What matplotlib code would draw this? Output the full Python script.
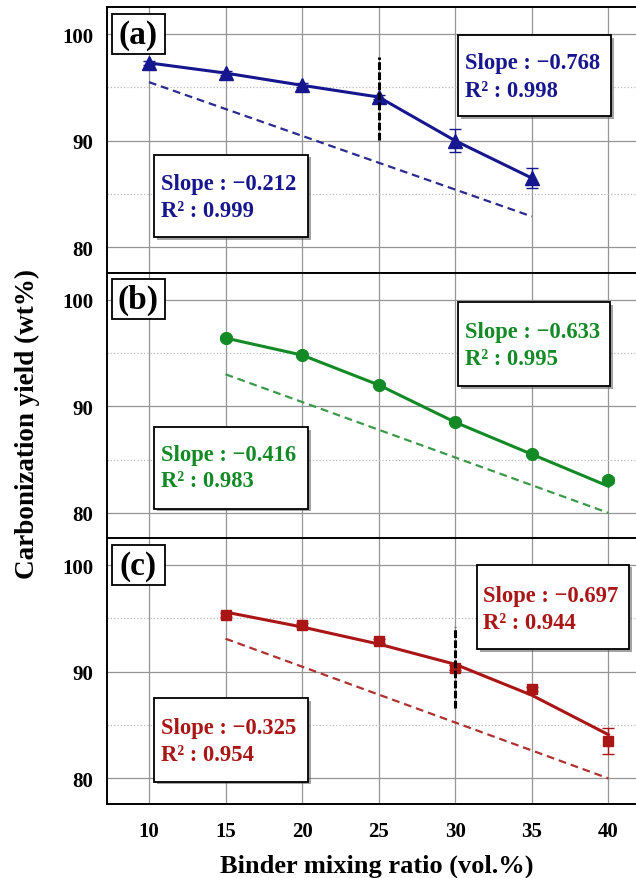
import numpy as np
import matplotlib
matplotlib.use("Agg")
from matplotlib import pyplot as plt
from matplotlib.patches import Rectangle
import matplotlib.patheffects as pe

plt.rcParams['font.family'] = ['Liberation Serif', 'DejaVu Serif']
plt.rcParams['font.weight'] = 'bold'

# panel (a)
x_a = [10, 15, 20, 25, 30, 35]
y_a = [97.3, 96.35, 95.2, 94.1, 90.0, 86.5]
err_a = [0.2, 0.2, 0.2, 0.2, 1.1, 0.95]
fit_x_a = [10, 35]
fit_y_a = [95.5, 82.9]
slope_a = ["\u22120.212", "\u22120.768"]
r2_a = ["0.999", "0.998"]

# panel (b)
x_b = [15, 20, 25, 30, 35, 40]
y_b = [96.4, 94.8, 92.0, 88.5, 85.5, 83.1]
line_b = [96.4, 94.8, 92.0, 88.5, 85.5, 82.5]
err_b = [0.2, 0.2, 0.2, 0.2, 0.2, 0.3]
fit_x_b = [15, 40]
fit_y_b = [93.0, 80.0]
slope_b = ["\u22120.416", "\u22120.633"]
r2_b = ["0.983", "0.995"]

# panel (c)
x_c = [15, 20, 25, 30, 35, 40]
y_c = [95.3, 94.4, 92.9, 90.4, 88.4, 83.5]
line_c = [95.6, 94.2, 92.6, 90.7, 87.8, 84.1]
err_c = [0.2, 0.2, 0.2, 0.2, 0.2, 1.2]
fit_x_c = [15, 40]
fit_y_c = [93.1, 80.0]
slope_c = ["\u22120.325", "\u22120.697"]
r2_c = ["0.954", "0.944"]

xticks = [10, 15, 20, 25, 30, 35, 40]
yticks = [80, 90, 100]


def text_box(ax, x0, x1, y0, y1, tx, ty1, ty2, s, r2, color):
    rect = Rectangle((x0, y0), x1 - x0, y1 - y0, facecolor='white', edgecolor='black',
                     lw=1.3, zorder=6, clip_on=False)
    rect.set_path_effects([pe.withSimplePatchShadow(offset=(2, -2), shadow_rgbFace='0.4', alpha=0.6)])
    ax.add_patch(rect)
    ax.text(tx, ty1, "Slope : " + s, color=color, fontsize=16.3, fontweight='bold',
            va='center', ha='left', zorder=7)
    ax.text(tx, ty2, "R\u00b2 : " + r2, color=color, fontsize=16.3, fontweight='bold',
            va='center', ha='left', zorder=7)


def setup(ax, label, show_x):
    ax.set_xlim(7.29, 41.8)
    ax.set_ylim(77.6, 102.5)
    ax.set_xticks(xticks)
    ax.set_yticks(yticks)
    ax.set_yticks([85, 95], minor=True)
    ax.grid(which='major', color='#959595', lw=0.9, zorder=0)
    ax.grid(which='minor', axis='y', color='#bbbbbb', lw=0.9, ls=':', zorder=0)
    ax.tick_params(which='both', length=0, labelsize=15, pad=10)
    ax.tick_params(axis='x', pad=12)
    if not show_x:
        ax.tick_params(axis='x', labelbottom=False)
    for sp in ax.spines.values():
        sp.set_linewidth(1.4)
    ax.spines['right'].set_visible(False)
    rect = Rectangle((0.008, 0.826), 0.101, 0.15, transform=ax.transAxes, facecolor='white',
                     edgecolor='black', lw=1.3, zorder=6)
    ax.add_patch(rect)
    ax.text(0.0585, 0.9, label, transform=ax.transAxes, fontsize=24, fontweight='bold',
            ha='center', va='center', zorder=7)


fig = plt.figure(figsize=(6.36, 8.79), dpi=100)
h = 0.30205
ax_a = fig.add_axes([0.169, 0.6883, 0.831, h])
ax_b = fig.add_axes([0.169, 0.38623, 0.831, h])
ax_c = fig.add_axes([0.169, 0.08419, 0.831, h])

blue, green, red = '#16168e', '#138a26', '#aa1616'
dash = (0, (3.5, 2.2))

# (a)
setup(ax_a, "(a)", False)
ax_a.plot(fit_x_a, fit_y_a, color='#2a2a90', lw=1.6, ls=dash, zorder=3)
ax_a.errorbar(x_a, y_a, yerr=err_a, color=blue, lw=2.2, marker='^', ms=9.5, capsize=4.5,
              elinewidth=1, capthick=1, zorder=4)
ax_a.plot([25, 25], [90.1, 97.9], color='black', lw=2.2, ls=(0, (2.5, 0.8)), zorder=5)
text_box(ax_a, 10.35, 20.4, 81.0, 88.7, 10.8, 86.0, 83.5, slope_a[0], r2_a[0], blue)
text_box(ax_a, 30.2, 40.2, 92.3, 99.9, 30.65, 97.3, 94.7, slope_a[1], r2_a[1], blue)

# (b)
setup(ax_b, "(b)", False)
ax_b.plot(fit_x_b, fit_y_b, color='#3a9a4a', lw=1.6, ls=dash, zorder=3)
ax_b.plot(x_b, line_b, color=green, lw=2.2, zorder=4)
ax_b.errorbar(x_b, y_b, yerr=err_b, color=green, ls='none', marker='o', ms=8.5, capsize=4.5,
              elinewidth=1, capthick=1, zorder=4)
text_box(ax_b, 10.35, 20.4, 80.4, 88.06, 10.8, 85.5, 83.0, slope_b[0], r2_b[0], green)
text_box(ax_b, 30.2, 40.1, 91.9, 99.75, 30.65, 97.0, 94.5, slope_b[1], r2_b[1], green)

# (c)
setup(ax_c, "(c)", True)
ax_c.plot(fit_x_c, fit_y_c, color='#b03030', lw=1.6, ls=dash, zorder=3)
ax_c.plot(x_c, line_c, color=red, lw=2.2, zorder=4)
ax_c.errorbar(x_c, y_c, yerr=err_c, color=red, ls='none', marker='s', ms=7.5, capsize=4.5,
              elinewidth=1, capthick=1, zorder=4)
ax_c.plot([30, 30], [86.6, 94.2], color='black', lw=2.2, ls=(0, (2.5, 0.8)), zorder=5)
text_box(ax_c, 10.35, 20.4, 79.7, 87.5, 10.8, 84.75, 82.2, slope_c[0], r2_c[0], red)
text_box(ax_c, 31.4, 41.37, 92.1, 100.05, 31.8, 97.2, 94.6, slope_c[1], r2_c[1], red)

fig.text(377 / 636, 1 - 866 / 879, "Binder mixing ratio (vol.%)", fontsize=19,
         fontweight='bold', ha='center', va='center')
fig.text(27 / 636, 1 - 424 / 879, "Carbonization yield (wt%)", fontsize=19.5,
         fontweight='bold', ha='center', va='center', rotation=90)

fig.savefig("out.png", dpi=100)
